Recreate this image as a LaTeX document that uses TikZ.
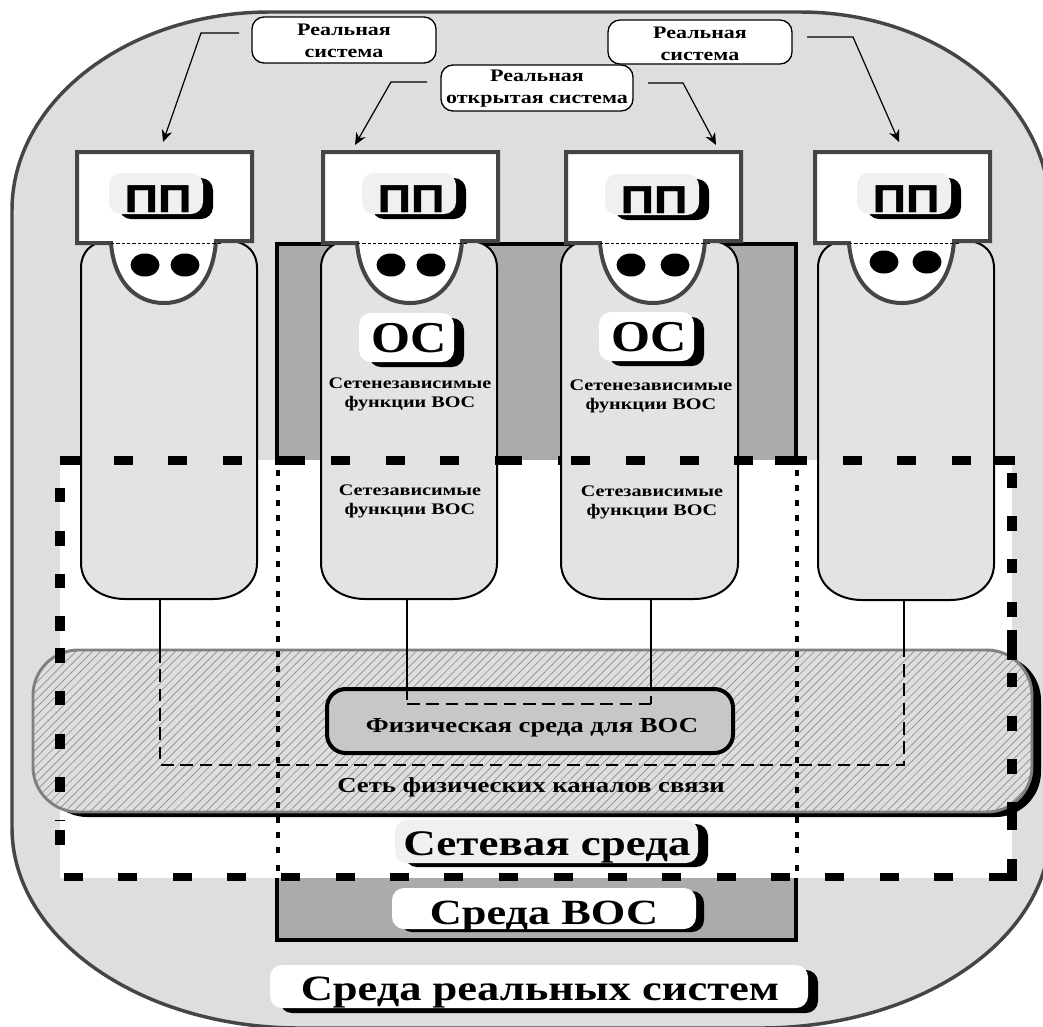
\documentclass[tikz,border=0pt]{standalone}
\usepackage{fontspec}
\usetikzlibrary{patterns.meta,arrows.meta}
\newfontfamily\wf[FakeStretch=1.25]{Liberation Serif}
\newfontfamily\wo[FakeStretch=1.14]{Liberation Serif}
\newfontfamily\wb[FakeStretch=1.2,FakeBold=1.2]{Liberation Sans}
\definecolor{outerfill}{gray}{0.87}
\definecolor{outerline}{gray}{0.27}
\definecolor{vocfill}{gray}{0.67}
\definecolor{colfill}{gray}{0.89}
\definecolor{badgegray}{gray}{0.94}
\definecolor{physfill}{gray}{0.78}
\newcommand{\ufont}[2]{\fontsize{#1}{#2}\selectfont\wf\bfseries}
\tikzset{
  txt/.style={inner sep=0pt,align=center,text=black},
  small/.style={txt,font=\ufont{12.1}{14.25}},
  calltxt/.style={txt,font=\ufont{13.2}{16.5}},
  bigtxt/.style={txt,anchor=base},
  call/.style={draw=black,line width=1pt,fill=white,rounded corners=9pt},
  leader/.style={draw=black,line width=.9pt,-{Stealth[length=9pt,width=8pt]}},
  colbox/.style={draw=black,line width=1.5pt,fill=colfill},
  topbox/.style={draw=outerline,line width=3pt,fill=white,line join=miter},
  wire/.style={draw=black,line width=1.1pt},
  wiredash/.style={draw=black,line width=1.1pt,dash pattern=on 9.5pt off 5pt},
  heavy/.style={fill=black,draw=none},
  badgesh/.style={fill=black,rounded corners=9pt},
}
% #1 x0  #2 y0  #3 x1  #4 y1  #5 fill  #6 sx  #7 sy
\newcommand{\badgebg}[7]{%
  \fill[badgesh] (#1+#6,#2+#7) rectangle (#3+#6,#4+#7);
  \fill[#5,rounded corners=9pt] (#1,#2) rectangle (#3,#4);
}
\begin{document}
\begin{tikzpicture}[x=0.75pt,y=-0.75pt]
\useasboundingbox (0,0) rectangle (1043,1026);
\clip (0,0) rectangle (1043,1026);
\fill[white] (0,0) rectangle (1043,1026);
% outer rounded region
\path[fill=outerfill,draw=outerline,line width=2.6pt]
  (270,12) -- (800,12) .. controls (938,12) and (1050,102) .. (1050,212)
  -- (1050,830) .. controls (1050,939) and (920,1028) .. (760,1028)
  -- (300,1028) .. controls (141,1028) and (12,938) .. (12,828)
  -- (12,210) .. controls (12,101) and (128,12) .. (270,12) -- cycle;
% OSI environment
\draw[fill=vocfill,draw=black,line width=3pt,line join=miter] (277,244) rectangle (796,940);
% network environment
\fill[white] (60,460) rectangle (1012,878);
% columns
\foreach \xa/\xb/\yb in {81/257/599,321/497/599,561/738/599,818/994/600}{
  \draw[colbox] (\xa,268) .. controls (\xa,252) and (\xa+10,243) .. (\xa+24,241)
    -- (\xb-24,241) .. controls (\xb-10,243) and (\xb,252) .. (\xb,268)
    -- (\xb,\yb-36) .. controls (\xb,\yb-14) and (\xb-20,\yb) .. (\xb-44,\yb)
    -- (\xa+44,\yb) .. controls (\xa+20,\yb) and (\xa,\yb-14) .. (\xa,\yb-36) -- cycle;
}
% physical network band
\fill[black,rounded corners=34pt] (42,655) rectangle (1041,817);
\path[fill=outerfill,rounded corners=34pt] (33,650) rectangle (1032,812);
\path[pattern={Lines[angle=45,distance=4.4pt,line width=.5pt]},pattern color=black!45,rounded corners=34pt] (33,650) rectangle (1032,812);
\draw[draw=black!50,line width=2.2pt,rounded corners=34pt] (33,650) rectangle (1032,812);
% physical medium
\draw[fill=physfill,draw=black,line width=3pt,rounded corners=14pt] (327,689) rectangle (733,753);
\node[bigtxt,font=\ufont{16}{18}] (phys) at (532,732) {Физическая среда для ВОС};
\node[bigtxt,font=\ufont{16}{18}] (net) at (531,792) {Сеть физических каналов связи};
% dotted borders
\foreach \yy in {473,488,503,518,533,549,564,579,594,609,624,639,654,669,684,699,714,729,744,760,775,790,805,820,835,850,868}{
  \fill[black] (276,\yy-3) rectangle (279.5,\yy+3);
  \fill[black] (795,\yy-3) rectangle (798.5,\yy+3);
}
% wires
\coordinate (b1) at (160,600); \coordinate (j1) at (160,650); \coordinate (k1) at (160,765);
\coordinate (b4) at (904,600); \coordinate (j4) at (904,650); \coordinate (k4) at (904,765);
\coordinate (b2) at (407,600); \coordinate (j2) at (407,700); \coordinate (k2) at (407,704);
\coordinate (b3) at (651,600); \coordinate (j3) at (651,689); \coordinate (k3) at (651,704);
\draw[wire] (b1) -- (j1);
\draw[wire] (b4) -- (j4);
\draw[wire] (b2) -- (j2);
\draw[wire] (b3) -- (j3);
\draw[wiredash] (j1) -- (k1) -- (k4) -- (j4);
\draw[wiredash] (k2) -- (k3);
\draw[wire] (k3) -- +(0,-8);
% top boxes with heads
\foreach \bx in {77,323,566,815}{
  \path[topbox]
    (\bx,152) -- (\bx+175,152) -- (\bx+175,241) -- (\bx+139,241)
    .. controls (\bx+136,282) and (\bx+115,303) .. (\bx+87,303)
    .. controls (\bx+59,303) and (\bx+37,282) .. (\bx+34,243)
    -- (\bx,243) -- cycle;
  \draw[black,line width=.5pt,dash pattern=on 2.5pt off 1.5pt] (\bx+34,243) -- (\bx+144,243);
}
\foreach \ex/\ey in {145/265,185/265,391/265,431/265,631/265,675/265,884/262,927/262}{
  \fill[black] (\ex,\ey) ellipse [x radius=14.5,y radius=11.5];
}
% badges PP
\foreach \bx/\by/\nm in {109/173/a,362/173/b,605/174/c,857/173/d}{
  \badgebg{\bx}{\by}{\bx+94}{\by+41}{badgegray}{10}{5}
  \node[bigtxt,font=\fontsize{29}{29}\selectfont\wb\bfseries] (pp\nm) at (\bx+49,\by+39) {ПП};
}
% badges OS
\foreach \bx/\by/\nm in {359/313/a,599/312/b}{
  \badgebg{\bx}{\by}{\bx+95}{\by+49}{white}{10}{5}
  \node[bigtxt,font=\fontsize{33}{33}\selectfont\wo\bfseries] (os\nm) at (\bx+50,\by+39) {ОС};
}
% function labels
\node[small] (f1) at (410,394) {Сетенезависимые\\функции ВОС};
\node[small] (f2) at (651,396) {Сетенезависимые\\функции ВОС};
\node[small] (f3) at (410,501) {Сетезависимые\\функции ВОС};
\node[small] (f4) at (652,502) {Сетезависимые\\функции ВОС};
% bold dashed border of network environment
\foreach \aa/\bb in {60/80,114/133,168/187,223/242,275/305,331/350,386/405,440/459,495/522,558/561,571/590,626/645,680/699,734/753,775/807,843/862,897/916,952/971,994/1015}{
  \fill[heavy] (\aa,456) rectangle (\bb,465);
}
\foreach \aa/\bb in {64/83,118/137,173/192,227/246,281/300,336/355,390/409,444/463,499/518,554/573,608/627,662/681,717/736,771/790,825/844,880/899,934/953,989/1017}{
  \fill[heavy] (\aa,873) rectangle (\bb,881);
}
\foreach \aa/\bb in {488/502,531/546,574/588,616/631,648/663,691/705,734/749,777/792,830/845}{
  \fill[heavy] (55,\aa) rectangle (65,\bb);
}
\draw[black,line width=.6pt] (55,820.5) -- (65,820.5);
\foreach \aa/\bb in {473/488,516/531,559/573,602/617,630/660,673/687,716/731,759/774,802/830,859/881}{
  \fill[heavy] (1007,\aa) rectangle (1017,\bb);
}
% environment badges
\badgebg{395}{820}{698}{863}{badgegray}{10}{4}
\node[bigtxt,font=\ufont{27}{30}] (netenv) at (547,855) {Сетевая среда};
\badgebg{392}{888}{696}{929}{white}{8}{3}
\node[bigtxt,font=\ufont{26.6}{30}] (vocenv) at (544,924) {Среда ВОС};
\badgebg{270}{965}{808}{1008}{white}{10}{5}
\node[bigtxt,font=\ufont{26.7}{30}] (realenv) at (540,1000) {Среда реальных систем};
% callouts
\draw[call] (252,17) rectangle (436,63);
\node[calltxt] (l1) at (344,41) {Реальная\\система};
\draw[call] (608,20) rectangle (792,64);
\node[calltxt] (l3) at (700,44) {Реальная\\система};
\draw[call] (441,65) rectangle (633,111);
\node[calltxt] (l2) at (537,89) {Реальная\\открытая система};
% leaders
\coordinate (s1) at (239,33); \coordinate (m1) at (201,33); \coordinate (t1) at (163,142);
\coordinate (s2) at (427,82); \coordinate (m2) at (391,82); \coordinate (t2) at (355,145);
\coordinate (s3) at (648,83); \coordinate (m3) at (683,83); \coordinate (t3) at (716,145);
\coordinate (s4) at (807,37); \coordinate (m4) at (853,37); \coordinate (t4) at (899,142);
\draw[leader] (s1) -- (m1) -- (t1);
\draw[leader] (s2) -- (m2) -- (t2);
\draw[leader] (s3) -- (m3) -- (t3);
\draw[leader] (s4) -- (m4) -- (t4);
\end{tikzpicture}
\end{document}
